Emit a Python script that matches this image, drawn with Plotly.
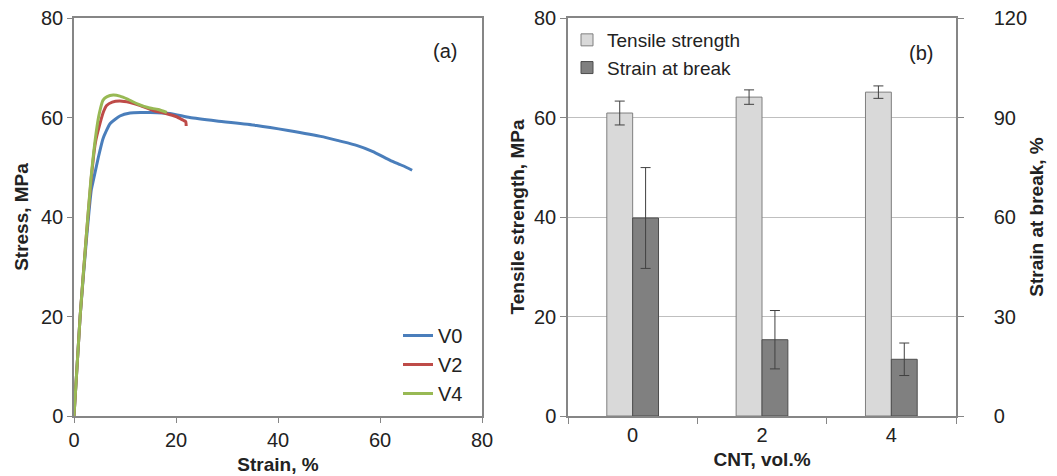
import plotly.graph_objects as go

# ---------------- data ----------------
# Panel (a): stress-strain curves
v0_strain = [0, 1.2, 2.4, 3.4, 3.8, 4.8, 5.7, 7.1, 9.0, 11.0, 13.0, 15.0, 18.8, 22.7, 28.0, 35.8, 42.0, 48.9, 52.0, 55.4, 58.5, 62.0, 64.5, 66.3]
v0_stress = [0, 20, 35, 45.5, 47.4, 52.1, 55.8, 58.8, 60.3, 60.9, 61.0, 61.0, 60.8, 60.0, 59.3, 58.4, 57.4, 56.1, 55.3, 54.4, 53.2, 51.4, 50.3, 49.4]

v2_strain = [0, 1.2, 2.4, 3.4, 4.2, 5.1, 5.8, 6.4, 7.5, 9.0, 11.0, 13.0, 15.5, 18.0, 20.0, 21.5, 21.9, 22.0]
v2_stress = [0, 20, 36, 48, 55, 58.8, 61.2, 62.4, 63.1, 63.3, 63.0, 62.4, 61.4, 60.8, 60.2, 59.4, 59.2, 58.3]

v4_strain = [0, 1.2, 2.4, 3.3, 4.4, 5.0, 5.7, 6.5, 7.7, 9.0, 10.5, 12.3, 14.5, 16.5, 18.2]
v4_stress = [0, 20, 36, 47.4, 57.4, 61.0, 63.5, 64.2, 64.5, 64.3, 63.7, 62.8, 62.0, 61.6, 61.0]

# Panel (b): bars
cnt_categories = ["0", "2", "4"]
tensile_strength = [60.9, 64.1, 65.1]
tensile_err = [2.4, 1.45, 1.25]
strain_at_break = [59.7, 23.0, 17.1]
strain_err = [15.2, 8.8, 4.9]

left_ticks = [0, 20, 40, 60, 80]
right_ticks = [0, 30, 60, 90, 120]

# ---------------- style ----------------
FONT = "Liberation Sans, Arial, sans-serif"
AX = "#868686"
OFF = 8                      # page body margin
W, H = 1057 - OFF, 476 - OFF

def px_x(p):
    return (p - OFF) / W

def px_y(p):
    return 1 - (p - OFF) / H

fig = go.Figure()

curve_style = [
    ("V0", v0_strain, v0_stress, "#4A7EBB"),
    ("V2", v2_strain, v2_stress, "#BE4B48"),
    ("V4", v4_strain, v4_stress, "#98B954"),
]
for name, xs, ys, col in curve_style:
    fig.add_trace(go.Scatter(
        x=xs, y=ys, mode="lines", name=name,
        line=dict(color=col, width=3, shape="spline", smoothing=0.5),
        xaxis="x", yaxis="y", legend="legend", legendgroup=name,
    ))

fig.add_trace(go.Bar(
    x=cnt_categories, y=tensile_strength, name="Tensile strength",
    marker=dict(color="#D9D9D9", line=dict(color="#7F7F7F", width=1)),
    error_y=dict(type="data", array=tensile_err, color="#404040", thickness=1, width=5),
    xaxis="x2", yaxis="y2", offsetgroup="1", legend="legend2",
))
fig.add_trace(go.Bar(
    x=cnt_categories, y=strain_at_break, name="Strain at break",
    marker=dict(color="#808080", line=dict(color="#4D4D4D", width=1)),
    error_y=dict(type="data", array=strain_err, color="#404040", thickness=1, width=5),
    xaxis="x2", yaxis="y3", offsetgroup="2", legend="legend2",
))

tickfont = dict(family=FONT, size=20, color="#222222")
titlefont = dict(family=FONT, size=19, color="#222222", weight="bold")

fig.update_layout(
    width=W, height=H,
    margin=dict(l=0, r=0, t=0, b=0, autoexpand=False),
    paper_bgcolor="white", plot_bgcolor="white",
    barmode="group", bargap=0.6, bargroupgap=0,
    font=dict(family=FONT, size=20, color="#222222"),
    xaxis=dict(
        domain=[px_x(74), px_x(482)], range=[0, 80], tickvals=left_ticks,
        showline=True, linecolor=AX, linewidth=1.5, mirror=True,
        ticks="outside", ticklen=5, tickcolor=AX, showgrid=False, zeroline=False,
        tickfont=tickfont, anchor="y", automargin=False, ticklabeloverflow="allow",
        title=dict(text="Strain, %", font=titlefont, standoff=8),
    ),
    yaxis=dict(
        domain=[px_y(416), px_y(18)], range=[0, 80], tickvals=left_ticks,
        showline=True, linecolor=AX, linewidth=1.5, mirror=True,
        ticks="outside", ticklen=5, tickcolor=AX, showgrid=False, zeroline=False,
        tickfont=tickfont, anchor="x", automargin=False, ticklabeloverflow="allow",
        title=dict(text="Stress, MPa", font=titlefont, standoff=7),
    ),
    xaxis2=dict(
        domain=[px_x(568), px_x(956)], type="category",
        showline=True, linecolor=AX, linewidth=1.5, mirror=True,
        ticks="outside", tickson="boundaries", ticklen=6, tickcolor=AX,
        showgrid=False, zeroline=False, tickfont=tickfont, anchor="y2", automargin=False,
        ticklabeloverflow="allow",
        title=dict(text="CNT, vol.%", font=titlefont, standoff=8),
    ),
    yaxis2=dict(
        domain=[px_y(416), px_y(18)], range=[0, 80], tickvals=left_ticks,
        showline=True, linecolor=AX, linewidth=1.5,
        ticks="outside", ticklen=6, tickcolor=AX,
        showgrid=True, gridcolor="#BFBFBF", gridwidth=1, zeroline=False,
        tickfont=tickfont, anchor="x2", automargin=False, ticklabeloverflow="allow",
        title=dict(text="Tensile strength, MPa", font=titlefont, standoff=4),
    ),
    yaxis3=dict(
        range=[0, 120], tickvals=right_ticks, overlaying="y2", side="right",
        showline=True, linecolor=AX, linewidth=1.5,
        ticks="outside", ticklen=6, tickcolor=AX, ticklabelstandoff=26,
        showgrid=False, zeroline=False, tickfont=tickfont, anchor="x2", automargin=False,
        ticklabeloverflow="allow",
        title=dict(text="Strain at break, %", font=titlefont, standoff=4),
    ),
    legend=dict(
        x=px_x(398), y=px_y(316), xanchor="left", yanchor="top",
        bgcolor="rgba(0,0,0,0)", font=dict(family=FONT, size=20, color="#222222"),
        itemwidth=30, tracegroupgap=12, traceorder="normal",
    ),
    legend2=dict(
        x=px_x(567), y=px_y(21), xanchor="left", yanchor="top",
        bgcolor="rgba(0,0,0,0)", font=dict(family=FONT, size=19, color="#222222"),
        itemwidth=30, traceorder="normal", tracegroupgap=0,
    ),
    annotations=[
        dict(text="(a)", x=px_x(445), y=px_y(38), xref="paper", yref="paper",
             showarrow=False, font=dict(family=FONT, size=20, color="#222222")),
        dict(text="(b)", x=px_x(935), y=px_y(40), xref="paper", yref="paper",
             showarrow=False, font=dict(family=FONT, size=20, color="#222222")),
    ],
    showlegend=True,
)

fig.write_html("out.html")
